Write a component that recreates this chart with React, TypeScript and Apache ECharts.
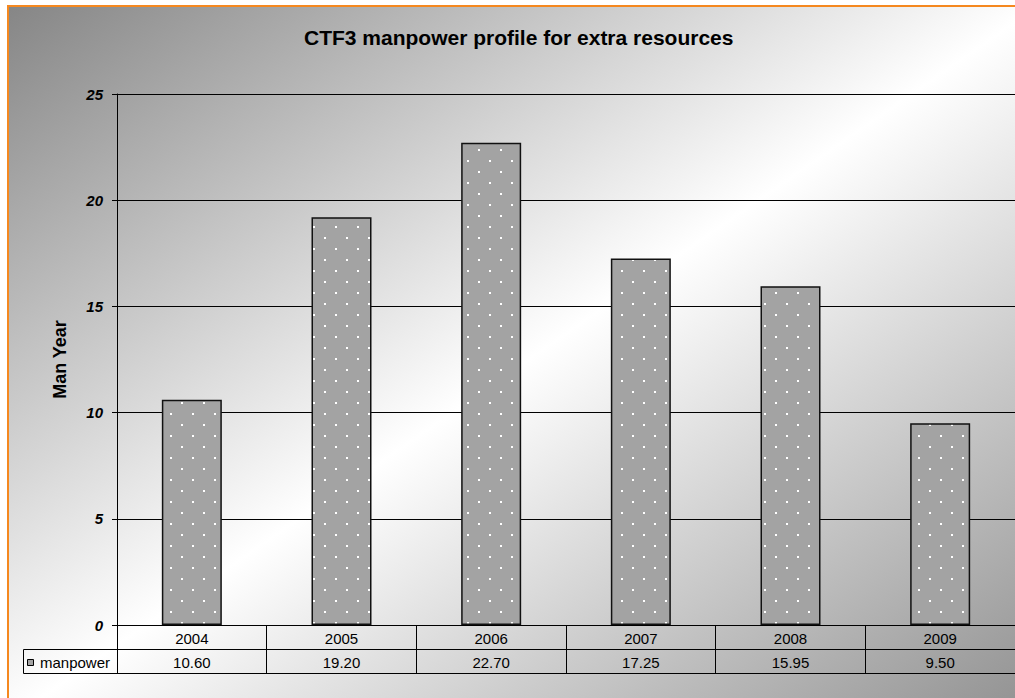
import React, { useEffect, useRef } from "react";
import * as echarts from "echarts";

const titleText = "CTF3 manpower profile for extra resources";
const years = ["2004", "2005", "2006", "2007", "2008", "2009"];
const manpower = [10.6, 19.2, 22.7, 17.25, 15.95, 9.5];
const yTicks = [0, 5, 10, 15, 20, 25];
const seriesName = "manpower";
const yAxisName = "Man Year";

const FONT = "'Liberation Sans', Arial, sans-serif";

function makeDotPattern(): HTMLCanvasElement {
  const c = document.createElement("canvas");
  c.width = 22;
  c.height = 22;
  const ctx = c.getContext("2d")!;
  ctx.fillStyle = "#a3a3a3";
  ctx.fillRect(0, 0, 22, 22);
  ctx.fillStyle = "#ffffff";
  ctx.fillRect(5, 6, 2, 2);
  ctx.fillRect(16, 17, 2, 2);
  return c;
}

export default function App() {
  const ref = useRef<HTMLDivElement>(null);

  useEffect(() => {
    if (!ref.current) return;
    const chart = echarts.init(ref.current, null, { renderer: "svg" });
    const gridLeft = 117;
    const gridTop = 94;
    const gridW = 901;
    const gridH = 531;
    const bottom = gridTop + gridH;
    const tableLeft = 23.5;
    const right = gridLeft + gridW;
    const pattern = makeDotPattern();

    chart.setOption({
      animation: false,
      backgroundColor: "transparent",
      title: {
        text: titleText,
        left: 304,
        top: 27,
        padding: 0,
        textStyle: { fontFamily: FONT, fontSize: 21, fontWeight: "bold", color: "#000" },
      },
      grid: { left: gridLeft, top: gridTop, width: gridW, height: gridH, containLabel: false },
      xAxis: [
        {
          type: "category",
          data: years,
          position: "bottom",
          axisLine: { show: true, lineStyle: { color: "#000", width: 1 } },
          axisTick: { show: true, length: 49, interval: 0, alignWithLabel: false, lineStyle: { color: "#000", width: 1 } },
          axisLabel: { margin: 5.5, fontFamily: FONT, fontSize: 15, color: "#000", interval: 0 },
          splitLine: { show: false },
        },
        {
          type: "category",
          data: manpower.map((v) => v.toFixed(2)),
          position: "bottom",
          offset: 25,
          axisLine: { show: false },
          axisTick: { show: false },
          axisLabel: { margin: 5, fontFamily: FONT, fontSize: 15, color: "#000", interval: 0 },
          splitLine: { show: false },
        },
      ],
      yAxis: {
        type: "value",
        min: yTicks[0],
        max: yTicks[yTicks.length - 1],
        interval: 5,
        name: yAxisName,
        nameLocation: "middle",
        nameGap: 48,
        nameRotate: 90,
        nameTextStyle: { fontFamily: FONT, fontSize: 18, fontWeight: "bold", color: "#000" },
        axisLine: { show: true, lineStyle: { color: "#000", width: 1 } },
        axisTick: { show: true, length: 5, lineStyle: { color: "#000", width: 1 } },
        axisLabel: {
          margin: 14,
          fontFamily: FONT,
          fontSize: 15,
          fontWeight: "bold",
          fontStyle: "italic",
          color: "#000",
        },
        splitLine: { show: true, lineStyle: { color: "#000", width: 1 } },
      },
      series: [
        {
          name: seriesName,
          type: "bar",
          data: manpower,
          xAxisIndex: 0,
          barWidth: 60,
          itemStyle: {
            color: { image: pattern, repeat: "repeat" },
            borderColor: "#111",
            borderWidth: 1.5,
          },
        },
      ],
      graphic: [
        {
          type: "line",
          shape: { x1: tableLeft, y1: bottom + 24.5, x2: right + 5, y2: bottom + 24.5 },
          style: { stroke: "#000", lineWidth: 1 },
          silent: true,
        },
        {
          type: "line",
          shape: { x1: tableLeft, y1: bottom + 48.5, x2: right + 5, y2: bottom + 48.5 },
          style: { stroke: "#000", lineWidth: 1 },
          silent: true,
        },
        {
          type: "line",
          shape: { x1: tableLeft, y1: bottom + 24.5, x2: tableLeft, y2: bottom + 48.5 },
          style: { stroke: "#000", lineWidth: 1 },
          silent: true,
        },
        {
          type: "rect",
          shape: { x: 27.5, y: 659.5, width: 6, height: 6 },
          style: { fill: "#a3a3a3", stroke: "#000", lineWidth: 1 },
          silent: true,
        },
        {
          type: "text",
          x: 40,
          y: 662,
          style: {
            text: seriesName,
            fill: "#000",
            font: `15px ${FONT}`,
            textAlign: "left",
            textVerticalAlign: "middle",
          },
          silent: true,
        },
      ],
    });
    return () => chart.dispose();
  }, []);

  return (
    <div style={{ position: "fixed", left: 0, top: 0, width: 1015, height: 698, overflow: "hidden", background: "#fff" }}>
      <div
        style={{
          position: "absolute",
          left: 7,
          top: 5,
          width: 1030,
          height: 715,
          boxSizing: "border-box",
          borderLeft: "2px solid #f5881f",
          borderTop: "2px solid #f5881f",
          background: "linear-gradient(to bottom right, #868686 0%, #ffffff 50%, #8f8f8f 100%)",
        }}
      />
      <div ref={ref} style={{ position: "absolute", left: 0, top: 0, width: 1015, height: 698 }} />
    </div>
  );
}
